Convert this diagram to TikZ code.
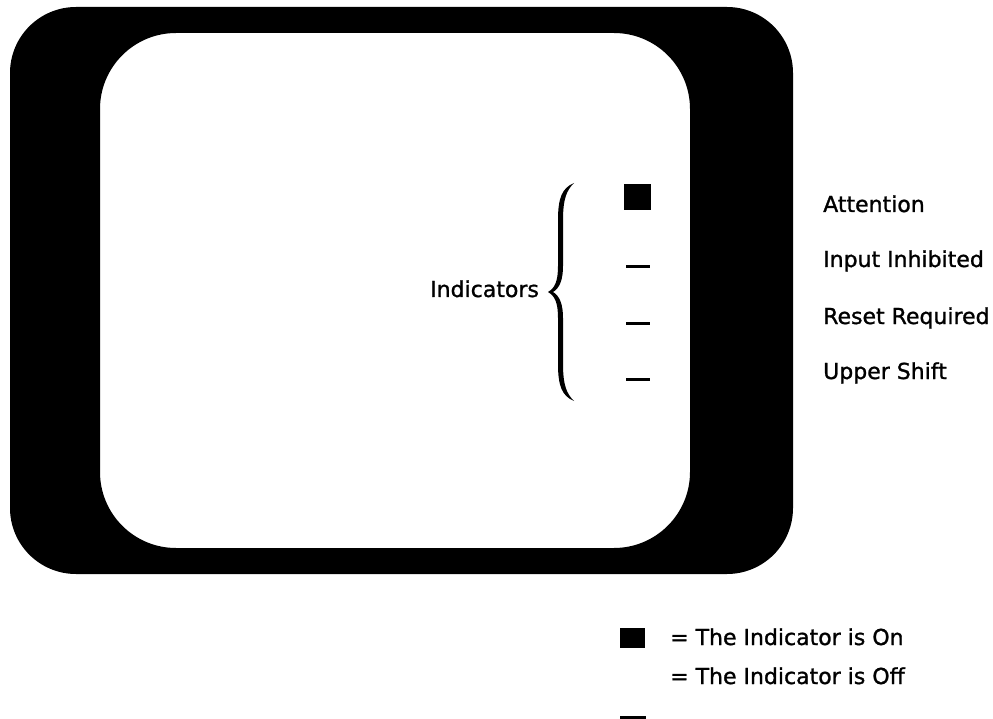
\documentclass[tikz,border=0pt]{standalone}
\usepackage{fontspec}
\setmainfont[FakeBold=1.2,AutoFakeBold=1.2]{DejaVu Sans}
\begin{document}
\begin{tikzpicture}[x=1pt,y=-1pt,
  lbl/.style={inner sep=0pt,anchor=base west,font=\fontsize{22}{26}\selectfont\bfseries},
  onlamp/.style={fill=black,inner sep=0pt,minimum width=27pt,minimum height=26pt},
  offlamp/.style={fill=black,inner sep=0pt,minimum width=24pt,minimum height=3pt}]
\useasboundingbox (0,0) rectangle (993,719);

% display bezel with the screen cut out
\fill[even odd rule]
  [rounded corners=66pt] (10,7) rectangle (793,574)
  [rounded corners=76pt] (100,33) rectangle (690,548);

% indicator lamps
\node[onlamp]  (att) at (637.5,197) {};
\node[offlamp] (inh) at (638,267) {};
\node[offlamp] (rst) at (638,323) {};
\node[offlamp] (ups) at (638,379) {};

% indicator names
\node[lbl] (tatt) at (823,212) {Attention};
\node[lbl] (tinh) at (823,267) {Input Inhibited};
\node[lbl] (trst) at (823,324) {Reset Required};
\node[lbl] (tups) at (823,379) {Upper Shift};

% grouping brace
\fill
  (574,183) .. controls (562,188) and (558,198) .. (558,220)
  -- (558,266) .. controls (558,281) and (555,288) .. (548,292)
  .. controls (555,296) and (558,303) .. (558,318)
  -- (558,364) .. controls (558,386) and (562,396) .. (574,401)
  .. controls (567,394) and (563,386) .. (563,364)
  -- (563,318) .. controls (563,305) and (560,296) .. (553,292)
  .. controls (560,288) and (563,279) .. (563,266)
  -- (563,220) .. controls (563,198) and (567,190) .. (574,183) -- cycle;
\node[lbl] (grp) at (430,297) {Indicators};

% legend
\node[fill=black,inner sep=0pt,minimum width=25pt,minimum height=20pt] (kon) at (632.5,637.5) {};
\node[fill=black,inner sep=0pt,minimum width=26pt,minimum height=5pt] (koff) at (633,718.5) {};
\node[lbl] (lon)  at (670,645) {= The Indicator is On};
\node[lbl] (loff) at (670,684) {= The Indicator is Off};
\end{tikzpicture}
\end{document}
